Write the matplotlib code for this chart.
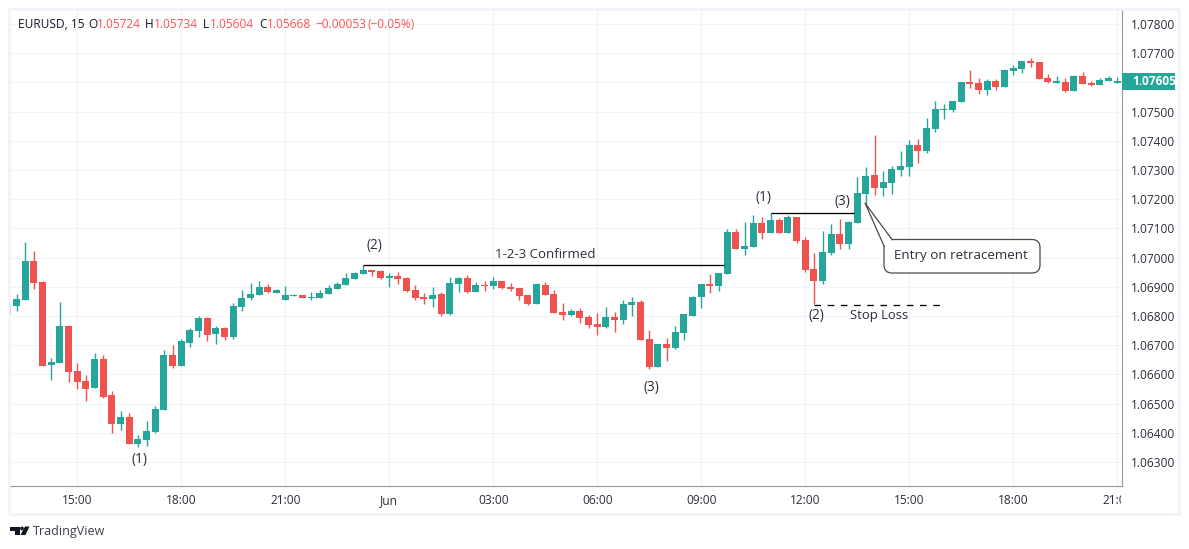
import matplotlib
matplotlib.use("Agg")
import matplotlib.pyplot as plt
from matplotlib.patches import Rectangle, FancyBboxPatch, Polygon, Circle
from matplotlib.transforms import Bbox

plt.rcParams['font.family'] = ['Open Sans', 'DejaVu Sans']

# Candles, quoted in 1e-5 price points; first candle is 8 bars before the 15:00 tick
first_bar = -8
opens = [106804,106834,106855,106989,106917,106632,106639,106766,106612,106578,106554,106653,106530,106430,106454,106362,106376,106403,106478,106667,106629,106708,106749,106793,106739,106759,106728,106831,106862,106872,106900,106879,106855,106869,106872,106862,106862,106875,106892,106906,106927,106944,106958,106954,106930,106937,106930,106889,106865,106859,106875,106807,106909,106930,106882,106906,106903,106920,106899,106896,106872,106841,106906,106875,106814,106803,106817,106797,106773,106762,106797,106787,106838,106848,106721,106626,106704,106691,106742,106800,106865,106910,106903,106944,107088,107030,107037,107119,107084,107129,107084,107139,107061,106961,106920,107016,107081,107047,107119,107218,107283,107238,107256,107300,107310,107386,107365,107440,107506,107506,107533,107601,107598,107574,107605,107584,107639,107646,107673,107670,107615,107598,107601,107571,107622,107598,107591,107605,107598]
highs = [106838,106876,107054,107023,106920,106656,106848,106766,106639,106598,106673,106667,106543,106475,106468,106393,106441,106492,106684,106701,106721,106759,106800,106797,106766,106763,106845,106889,106913,106920,106910,106893,106903,106875,106872,106882,106889,106906,106916,106947,106951,106975,106958,106958,106947,106951,106934,106906,106879,106899,106882,106934,106934,106940,106916,106920,106934,106920,106913,106896,106872,106913,106916,106889,106844,106824,106828,106804,106810,106831,106814,106855,106865,106855,106752,106704,106725,106766,106807,106869,106910,106944,106947,107098,107098,107122,107146,107139,107153,107136,107146,107139,107071,107016,107091,107115,107132,107126,107276,107310,107420,107297,107314,107365,107403,107406,107478,107536,107526,107536,107601,107643,107615,107612,107612,107643,107660,107673,107684,107670,107629,107622,107615,107625,107636,107605,107615,107622,107619]
lows = [106804,106818,106855,106893,106629,106581,106639,106574,106550,106509,106554,106519,106399,106410,106362,106352,106355,106399,106478,106622,106629,106694,106728,106715,106704,106718,106721,106817,106855,106872,106879,106879,106855,106869,106862,106855,106862,106875,106892,106906,106927,106944,106937,106927,106899,106909,106882,106855,106841,106831,106800,106803,106882,106879,106882,106886,106892,106892,106886,106855,106838,106841,106872,106810,106786,106800,106776,106759,106735,106759,106745,106773,106800,106718,106619,106626,106646,106687,106718,106800,106828,106879,106886,106944,107030,107009,107037,107064,107084,107084,107084,107050,106951,106841,106910,107009,107030,107030,107117,107184,107214,107211,107218,107279,107279,107324,107358,107430,107475,107499,107533,107581,107560,107557,107574,107584,107625,107632,107653,107612,107598,107598,107567,107571,107595,107588,107591,107605,107598]
closes = [106838,106858,106989,106913,106629,106643,106766,106608,106574,106550,106653,106523,106430,106454,106362,106379,106406,106482,106667,106629,106715,106752,106793,106735,106759,106728,106834,106862,106876,106900,106882,106889,106872,106872,106862,106865,106879,106896,106909,106930,106947,106958,106951,106930,106937,106927,106886,106862,106859,106872,106807,106913,106930,106882,106906,106903,106920,106896,106892,106869,106841,106909,106872,106810,106803,106817,106793,106769,106762,106797,106787,106841,106848,106718,106626,106704,106691,106745,106807,106865,106910,106903,106947,107088,107030,107040,107119,107084,107129,107084,107139,107057,106958,106920,107019,107081,107047,107122,107221,107279,107238,107259,107303,107314,107386,107365,107444,107509,107509,107536,107601,107595,107574,107605,107584,107643,107649,107673,107666,107612,107601,107605,107571,107622,107595,107591,107608,107615,107605]

time_tick_bars = [0, 12, 24, 36, 48, 60, 72, 84, 96, 108, 120]
time_tick_labels = ["15:00", "18:00", "21:00", "Jun", "03:00", "06:00", "09:00", "12:00", "15:00", "18:00", "21:00"]
price_ticks = [1.063, 1.064, 1.065, 1.066, 1.067, 1.068, 1.069, 1.070, 1.071, 1.072, 1.073, 1.074, 1.075, 1.076, 1.077, 1.078]
last_price = 1.07605

GREEN, RED, GRID, INK = "#26A69A", "#EF5350", "#F0F3FA", "#131722"
W, H = 1189, 549
fig = plt.figure(figsize=(W / 100, H / 100), dpi=100, facecolor="white")

# main pane: x 10..1121.6 px, y 10..486 px
ax = fig.add_axes([10 / W, 1 - 486 / H, 1111.6 / W, 476 / H])
ax.set_xlim(-7.765, 120.5)
ax.set_ylim(1.06218, 1.07848)
ax.set_facecolor("white")
ax.grid(True, color=GRID, lw=0.75, zorder=0)
ax.set_axisbelow(True)

xs = [first_bar + k for k in range(len(opens))]
colors = [GREEN if c >= o else RED for o, c in zip(opens, closes)]
ax.vlines(xs, [v / 1e5 for v in lows], [v / 1e5 for v in highs], colors=colors, lw=1.0, zorder=2)
ax.bar(xs, [abs(c - o) / 1e5 for o, c in zip(opens, closes)],
       bottom=[min(o, c) / 1e5 for o, c in zip(opens, closes)],
       width=0.81, color=colors, lw=0, zorder=3)

# axes furniture
for s in ax.spines.values():
    s.set_visible(False)
for side in ("bottom", "right"):
    ax.spines[side].set_visible(True)
    ax.spines[side].set_color("#9598A1")
    ax.spines[side].set_linewidth(0.8)
ax.yaxis.tick_right()
ax.set_yticks(price_ticks)
# the 1.07600 label sits behind the last-price tag, as in the chart
ax.set_yticklabels(["" if p == 1.076 else f"{p:.5f}" for p in price_ticks], fontsize=8.6, color="#2A2E39")
ax.set_xticks(time_tick_bars)
ax.set_xticklabels(time_tick_labels, fontsize=8.6, color="#2A2E39")
ax.tick_params(axis="x", length=0, pad=5.5)
ax.tick_params(axis="y", length=0, pad=6.6)
lab = ax.get_xticklabels()[-1]
lab.set_clip_on(True)
lab.set_clip_box(Bbox.from_extents(0, 0, 1121, H))

# drawn trend lines (price coordinates)
ax.plot([33, 74.6], [1.06974, 1.06974], color="black", lw=0.95, zorder=4, solid_capstyle="butt")
ax.plot([80, 89.6], [1.07152, 1.07152], color="black", lw=0.95, zorder=4, solid_capstyle="butt")
ax.plot([85, 99.8], [1.06837, 1.06837], color="black", lw=0.95, zorder=4, dashes=(5, 5))

# overlay in pixel coordinates
ov = fig.add_axes([0, 0, 1, 1], facecolor="none")
ov.set_xlim(0, W)
ov.set_ylim(H, 0)
ov.axis("off")

ov.add_patch(Rectangle((9, 9), 1170, 504.5, fill=False, ec=GRID, lw=1.8))

ov.add_patch(Rectangle((1122, 73), 53, 17, fc=GREEN, ec="none", zorder=5))
ov.text(1132, 81.8, f"{last_price:.5f}", color="white", fontsize=8.6, fontweight="bold", va="center", ha="left", zorder=6)

hdr = [(18, "EURUSD, 15", INK), (88, "O", INK), (97, "1.05724", "#FF5252"),
       (145, "H", INK), (154, "1.05734", "#FF5252"), (203, "L", INK), (210, "1.05604", "#FF5252"),
       (259, "C", INK), (267, "1.05668", "#FF5252"), (315, "\u22120.00053", "#FF5252"), (368, "(\u22120.05%)", "#FF5252")]
for x, t, c in hdr:
    ov.text(x, 24.5, t, color=c, fontsize=8.6, va="center", ha="left")

notes = [(139, 460, "(1)", 9.8), (374, 245, "(2)", 9.8), (545, 254, "1-2-3 Confirmed", 9.5), (651, 388, "(3)", 9.8),
         (764, 197, "(1)", 9.8), (842, 201, "(3)", 9.8), (816, 316, "(2)", 9.8), (879, 316, "Stop Loss", 9.4)]
for x, y, t, fs in notes:
    ov.text(x, y, t, color="#2A2E39", fontsize=fs, ha="center", va="center", zorder=6)

ov.add_patch(FancyBboxPatch((884, 239.5), 156, 33.5, boxstyle="round,pad=0,rounding_size=8",
                            fc="white", ec="#4A4A4A", lw=0.9, zorder=5))
ov.add_patch(Polygon([(892, 239.5), (865, 203), (884, 246)], closed=True, fc="white", ec="none", zorder=5.5))
ov.plot([892, 865, 884], [239.5, 203, 246], color="#4A4A4A", lw=0.9, zorder=5.6)
ov.text(961, 255.5, "Entry on retracement", color="#2A2E39", fontsize=9.6, ha="center", va="center", zorder=6)

# TradingView mark
k = "#131722"
ov.add_patch(Polygon([(10, 526.5), (19.5, 526.5), (19.5, 535), (14.5, 535), (14.5, 530.5), (10, 530.5)], closed=True, fc=k, ec="none"))
ov.add_patch(Circle((22, 528.5), 1.9, fc=k, ec="none"))
ov.add_patch(Polygon([(25, 526.5), (29.5, 526.5), (25.5, 535), (20.5, 535)], closed=True, fc=k, ec="none"))
ov.text(33, 531, "TradingView", color="#3A3E49", fontsize=9.0, ha="left", va="center")

fig.savefig("out.png", dpi=100, facecolor="white")
